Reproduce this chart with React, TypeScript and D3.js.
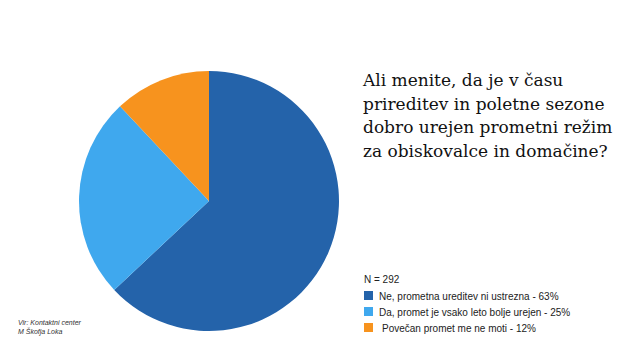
import React from "react"
import * as d3 from "d3"

const categories = [
    "Ne, prometna ureditev ni ustrezna - 63%",
    "Da, promet je vsako leto bolje urejen - 25%",
    "Povečan promet me ne moti - 12%",
]
const values = [63, 25, 12]
const colors = ["#2463AA", "#3FA8EE", "#F7931E"]
const titleLines = [
    "Ali menite, da je v času",
    "prireditev in poletne sezone",
    "dobro urejen prometni režim",
    "za obiskovalce in domačine?",
]
const sourceLines = ["Vir: Kontaktni center", "M Škofja Loka"]

const W = 640
const H = 360

const App = () => {
    const pie = d3.pie<number>().sort(null).value(d => d)
    const arc = d3.arc<d3.PieArcDatum<number>>().innerRadius(0).outerRadius(130)
    const slices = pie(values)

    return (
        <svg width={W} height={H} style={{position: "absolute", left: 0, top: 0}}>
            <rect width={W} height={H} fill="#fff"/>
            <g transform="translate(209,201)">
                {slices.map((s, i) => (
                    <path key={i} d={arc(s) || ""} fill={colors[i]}/>
                ))}
            </g>
            <g fontFamily="'DejaVu Serif', serif" fontSize={17} fill="#111">
                {titleLines.map((t, i) => (
                    <text key={i} x={363} y={86 + i * 23.5}>{t}</text>
                ))}
            </g>
            <g fontFamily="'Liberation Sans', Arial, sans-serif" fontSize={10} fill="#222">
                <text x={364} y={283}>N = 292</text>
                {categories.map((c, i) => (
                    <g key={i} transform={`translate(364,${291 + i * 16})`}>
                        <rect width={9} height={9} fill={colors[i]}/>
                        <text x={i === 2 ? 18 : 15} y={8.5}>{c}</text>
                    </g>
                ))}
            </g>
            <g fontFamily="'Liberation Sans', Arial, sans-serif" fontSize={7} fontStyle="italic" fill="#333">
                {sourceLines.map((t, i) => (
                    <text key={i} x={18} y={325 + i * 9}>{t}</text>
                ))}
            </g>
        </svg>
    )
}

export default App
